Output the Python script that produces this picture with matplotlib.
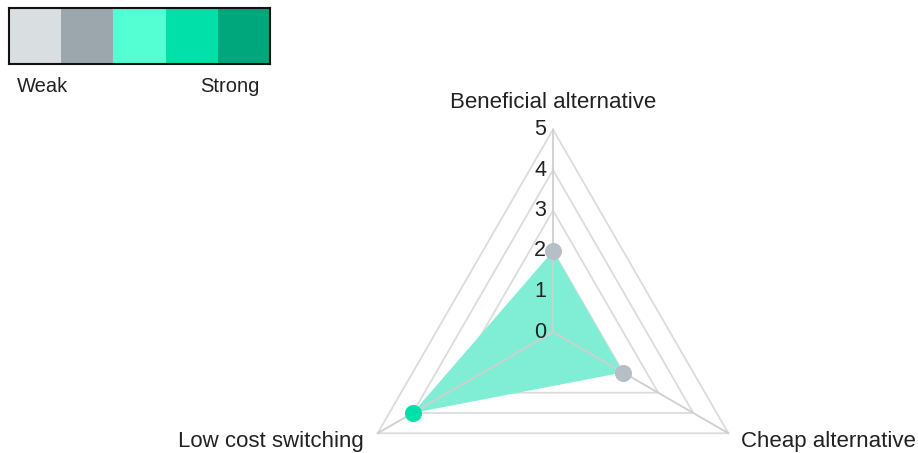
import numpy as np
import matplotlib.pyplot as plt
from matplotlib.patches import Rectangle

plt.rcParams['font.family'] = ['Liberation Sans', 'DejaVu Sans']

# radar data
axis_names = ["Beneficial alternative", "Cheap alternative", "Low cost switching"]
scores = [2, 2, 4]
ring_levels = [1, 2, 3, 4, 5]
tick_values = [0, 1, 2, 3, 4, 5]

# strength scale, weak -> strong
scale_colors = ["#d9dee1", "#9ba6ad", "#55ffd4", "#00e0a8", "#00a67c"]
point_colors = {1: "#d9dee1", 2: "#b6bec6", 3: "#55ffd4", 4: "#00dfa8", 5: "#00a67c"}

W, H = 918, 453
fig = plt.figure(figsize=(W / 100, H / 100), dpi=100)
ax = fig.add_axes([0, 0, 1, 1])
ax.axis("off")

# place the radar centre at (553, 332) px with 40.5 px per unit
cx, cy, unit = 553, 332, 40.5
ax.set_xlim(-cx / unit, (W - cx) / unit)
ax.set_ylim(-(H - cy) / unit, cy / unit)

angles = np.deg2rad([90, -30, 210])
ux, uy = np.cos(angles), np.sin(angles)

# triangular grid rings
for r in ring_levels:
    xs = np.append(ux * r, ux[0] * r)
    ys = np.append(uy * r, uy[0] * r)
    ax.plot(xs, ys, color="#dcdcdc", lw=1.3, zorder=1)

# filled area
vals = np.array(scores, dtype=float)
ax.fill(ux * vals, uy * vals, color="#80eed5", lw=0, zorder=2)

# spokes
rmax = max(ring_levels)
for x, y in zip(ux, uy):
    ax.plot([0, x * rmax], [0, y * rmax], color="#cfcfcf", lw=1.3, zorder=3)

# score points
for x, y, v in zip(ux, uy, scores):
    ax.scatter(x * v, y * v, s=150, color=point_colors[v], lw=0, zorder=4)

# tick labels along the top axis
for t in tick_values:
    ax.annotate(str(t), (0, t), xytext=(-5, 0), textcoords="offset points",
                ha="right", va="center", fontsize=15.5, color="#222222", zorder=5)

# axis names
lbl = dict(fontsize=16.0, color="#222222")
ax.annotate(axis_names[0], (0, rmax), xytext=(0, 12), textcoords="offset points",
            ha="center", va="bottom", **lbl)
ax.annotate(axis_names[1], (ux[1] * rmax, uy[1] * rmax), xytext=(9, -6),
            textcoords="offset points", ha="left", va="center", **lbl)
ax.annotate(axis_names[2], (ux[2] * rmax, uy[2] * rmax), xytext=(-10, -6),
            textcoords="offset points", ha="right", va="center", **lbl)

# colour scale legend in the top left corner
lax = fig.add_axes([9 / W, 1 - 64 / H, 261 / W, 56 / H])
lax.set_xlim(0, len(scale_colors))
lax.set_ylim(0, 1)
for i, c in enumerate(scale_colors):
    lax.add_patch(Rectangle((i, 0), 1, 1, color=c, lw=0))
lax.set_xticks([])
lax.set_yticks([])
for sp in lax.spines.values():
    sp.set_linewidth(1.5)
    sp.set_color("#111111")
fig.text(17 / W, 1 - 86 / H, "Weak", ha="left", va="center", fontsize=14.5, color="#222222")
fig.text(260 / W, 1 - 86 / H, "Strong", ha="right", va="center", fontsize=14.5, color="#222222")

fig.savefig("out.png", dpi=100)
